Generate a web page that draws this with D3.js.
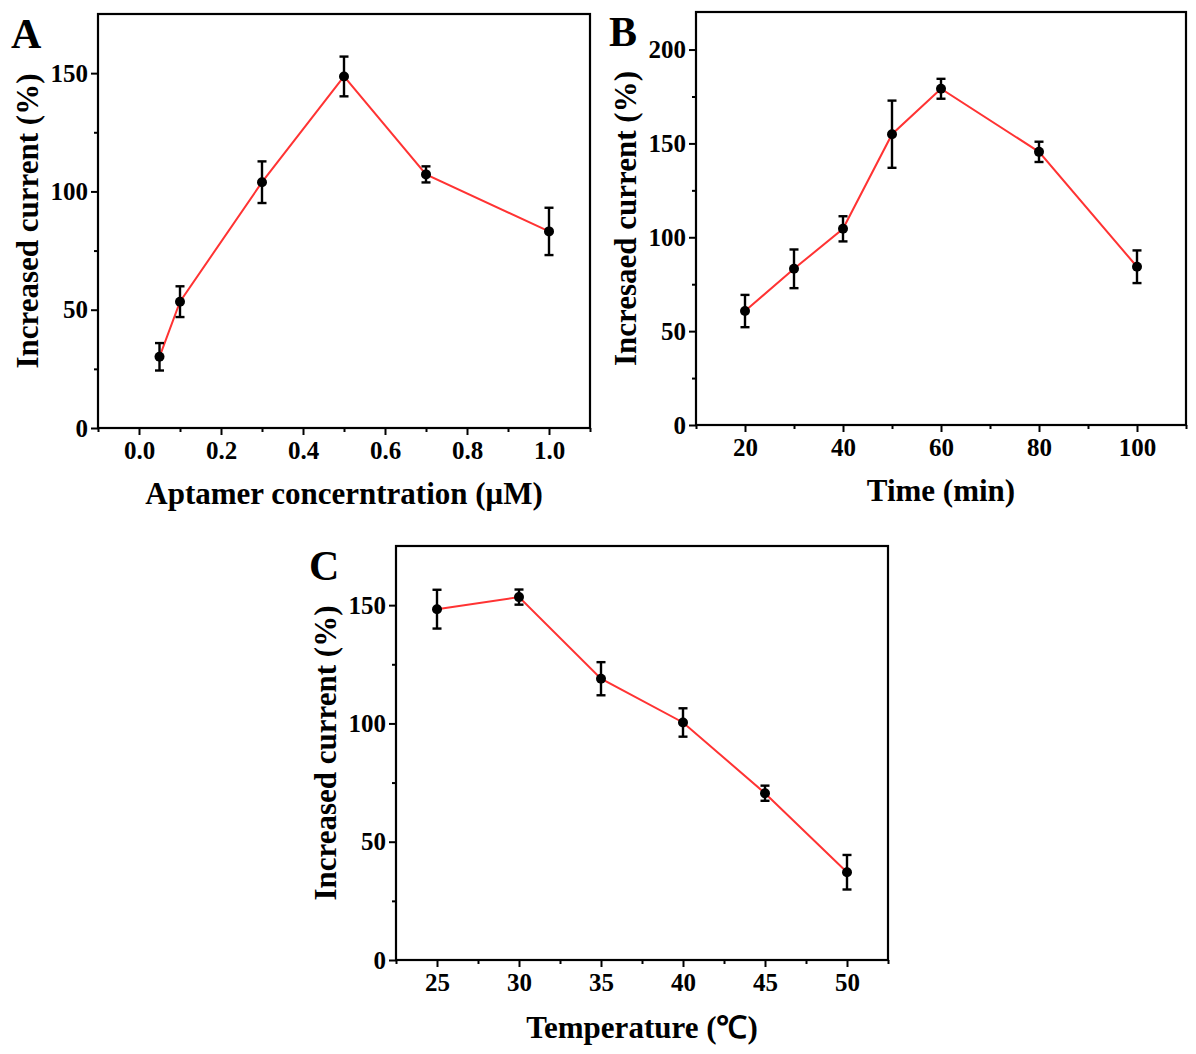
<!DOCTYPE html>
<html>
<head>
<meta charset="utf-8">
<script src="https://cdn.jsdelivr.net/npm/d3@7"></script>
<style>
  body { margin: 0; background: #fff; }
  text { font-family: "Liberation Serif", "Times New Roman", serif; font-weight: bold; fill: #000; }
</style>
</head>
<body>
<div id="chart"></div>
<script>
// panel A: aptamer concentration
const aConc = [0.05, 0.1, 0.3, 0.5, 0.7, 1.0];
const aCurrent = [30.1, 53.4, 103.9, 148.6, 107.2, 83.1];
const aError = [5.8, 6.5, 8.8, 8.4, 3.4, 10.0];
const aXTicks = [0.0, 0.2, 0.4, 0.6, 0.8, 1.0];
const aXMinor = [-0.1, 0.1, 0.3, 0.5, 0.7, 0.9, 1.1];
const aYTicks = [0, 50, 100, 150];
const aYMinor = [25, 75, 125];

// panel B: incubation time
const bTime = [20, 30, 40, 50, 60, 80, 100];
const bCurrent = [60.7, 83.2, 104.5, 154.9, 179.1, 145.5, 84.3];
const bError = [8.6, 10.3, 6.7, 17.9, 5.3, 5.4, 8.7];
const bXTicks = [20, 40, 60, 80, 100];
const bXMinor = [10, 30, 50, 70, 90, 110];
const bYTicks = [0, 50, 100, 150, 200];
const bYMinor = [25, 75, 125, 175];

// panel C: temperature
const cTemp = [25, 30, 35, 40, 45, 50];
const cCurrent = [148.3, 153.4, 118.9, 100.4, 70.5, 37.1];
const cError = [8.2, 3.2, 7.0, 6.0, 3.2, 7.3];
const cXTicks = [25, 30, 35, 40, 45, 50];
const cXMinor = [22.5, 27.5, 32.5, 37.5, 42.5, 47.5, 52.5];
const cYTicks = [0, 50, 100, 150];
const cYMinor = [25, 75, 125];

const width = 1196;
const height = 1054;
const svg = d3.select("#chart").append("svg")
  .attr("width", width)
  .attr("height", height);

function drawPanel(p) {
  const w = p.right - p.left;
  const h = p.bottom - p.top;
  const g = svg.append("g").attr("transform", `translate(${p.left},${p.top})`);
  const x = d3.scaleLinear().domain(p.xDomain).range([0, w]);
  const y = d3.scaleLinear().domain(p.yDomain).range([h, 0]);

  // minor ticks
  g.append("g").attr("transform", `translate(0,${h})`)
    .call(d3.axisBottom(x).tickValues(p.xMinor).tickSize(4).tickFormat(""))
    .call(a => a.select(".domain").remove());
  g.append("g")
    .call(d3.axisLeft(y).tickValues(p.yMinor).tickSize(4).tickFormat(""))
    .call(a => a.select(".domain").remove());

  // major ticks
  const xa = g.append("g").attr("transform", `translate(0,${h})`)
    .call(d3.axisBottom(x).tickValues(p.xTicks).tickSize(7).tickPadding(6).tickFormat(p.xFormat));
  const ya = g.append("g")
    .call(d3.axisLeft(y).tickValues(p.yTicks).tickSize(7).tickPadding(3).tickFormat(d3.format("d")));
  [xa, ya].forEach(a => {
    a.select(".domain").remove();
    a.selectAll("text").style("font-size", "25px");
  });
  g.selectAll(".tick line").attr("stroke", "#000").attr("stroke-width", 2);

  // frame
  g.append("rect")
    .attr("width", w).attr("height", h)
    .attr("fill", "none").attr("stroke", "#000").attr("stroke-width", 2.2);

  // line
  const pts = p.xs.map((v, i) => ({ x: v, y: p.ys[i], e: p.es[i] }));
  g.append("path").datum(pts)
    .attr("fill", "none").attr("stroke", "#ff3333").attr("stroke-width", 2)
    .attr("d", d3.line().x(d => x(d.x)).y(d => y(d.y)));

  // error bars
  const eb = g.selectAll(".eb").data(pts).enter().append("g")
    .attr("stroke", "#000").attr("stroke-width", 2.4);
  eb.append("line")
    .attr("x1", d => x(d.x)).attr("x2", d => x(d.x))
    .attr("y1", d => y(d.y - d.e)).attr("y2", d => y(d.y + d.e));
  eb.append("line")
    .attr("x1", d => x(d.x) - 4.5).attr("x2", d => x(d.x) + 4.5)
    .attr("y1", d => y(d.y + d.e)).attr("y2", d => y(d.y + d.e));
  eb.append("line")
    .attr("x1", d => x(d.x) - 4.5).attr("x2", d => x(d.x) + 4.5)
    .attr("y1", d => y(d.y - d.e)).attr("y2", d => y(d.y - d.e));

  g.selectAll(".pt").data(pts).enter().append("circle")
    .attr("cx", d => x(d.x)).attr("cy", d => y(d.y)).attr("r", 5)
    .attr("fill", "#000");

  // titles
  g.append("text")
    .attr("x", w / 2).attr("y", h + p.xTitleOff)
    .attr("text-anchor", "middle").style("font-size", "31px")
    .text(p.xTitle);
  g.append("text")
    .attr("transform", `translate(${-p.yTitleOff},${h / 2}) rotate(-90)`)
    .attr("text-anchor", "middle").style("font-size", "31px")
    .text(p.yTitle);
  g.append("text")
    .attr("x", -87).attr("y", 34)
    .style("font-size", "42px")
    .text(p.letter);
}

drawPanel({
  left: 98, right: 590, top: 14, bottom: 428,
  xDomain: [-0.1, 1.1], yDomain: [0, 175],
  xTicks: aXTicks, xMinor: aXMinor, yTicks: aYTicks, yMinor: aYMinor,
  xFormat: d3.format(".1f"),
  xs: aConc, ys: aCurrent, es: aError,
  xTitle: "Aptamer concerntration (μM)", yTitle: "Increased current (%)",
  xTitleOff: 76, yTitleOff: 60, letter: "A"
});

drawPanel({
  left: 696, right: 1186, top: 12, bottom: 425,
  xDomain: [10, 110], yDomain: [0, 220],
  xTicks: bXTicks, xMinor: bXMinor, yTicks: bYTicks, yMinor: bYMinor,
  xFormat: d3.format("d"),
  xs: bTime, ys: bCurrent, es: bError,
  xTitle: "Time (min)", yTitle: "Incresaed current (%)",
  xTitleOff: 76, yTitleOff: 60, letter: "B"
});

drawPanel({
  left: 396, right: 888, top: 546, bottom: 960,
  xDomain: [22.5, 52.5], yDomain: [0, 175],
  xTicks: cXTicks, xMinor: cXMinor, yTicks: cYTicks, yMinor: cYMinor,
  xFormat: d3.format("d"),
  xs: cTemp, ys: cCurrent, es: cError,
  xTitle: "Temperature (℃)", yTitle: "Increased current (%)",
  xTitleOff: 78, yTitleOff: 60, letter: "C"
});
</script>
</body>
</html>
